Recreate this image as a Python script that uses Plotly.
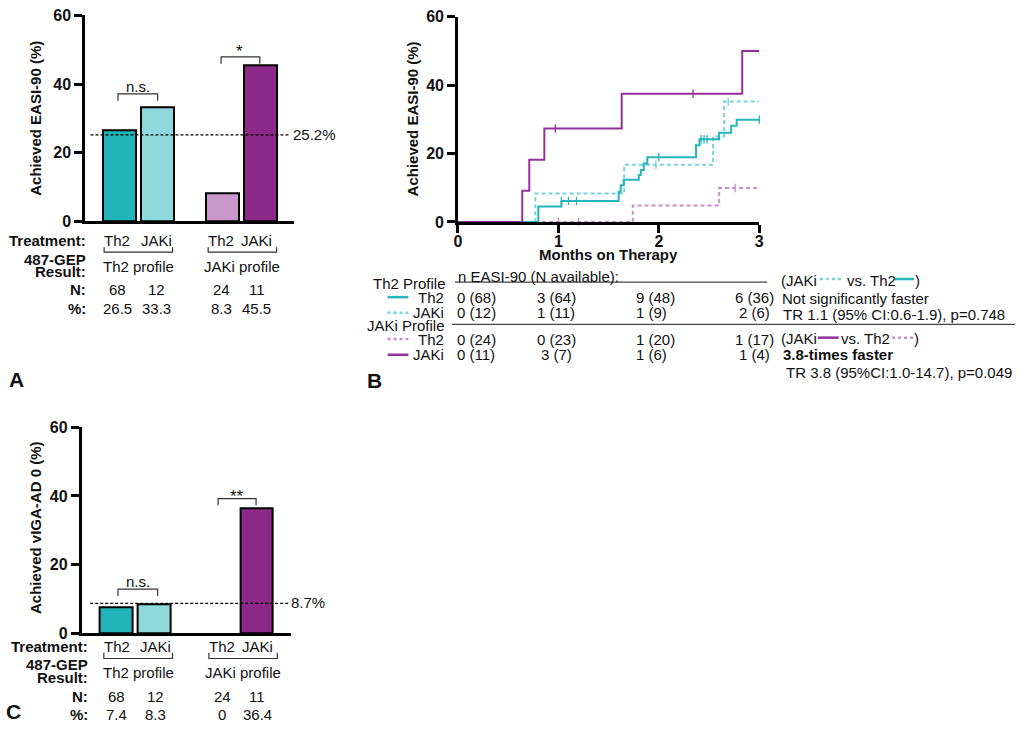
import plotly.graph_objects as go

# ---------------- data ----------------
treatments = ["Th2", "JAKi", "Th2", "JAKi"]
profiles = ["Th2 profile", "JAKi profile"]
n_patients = [68, 12, 24, 11]
easi90_pct = [26.5, 33.3, 8.3, 45.5]
viga0_pct = [7.4, 8.3, 0, 36.4]
easi90_overall = 25.2
viga0_overall = 8.7
sig_easi = ["n.s.", "*"]
sig_viga = ["n.s.", "**"]

# Kaplan-Meier style cumulative curves (months, % achieved EASI-90)
th2prof_th2_t = [0, 0.80, 1.03, 1.60, 1.62, 1.65, 1.80, 1.82, 1.85, 1.885, 2.37, 2.405, 2.60, 2.72, 2.775, 3.0]
th2prof_th2_y = [0, 4.5, 6.1, 8.8, 10.7, 12.3, 13.7, 15.2, 17.1, 18.9, 22.4, 24.2, 26.1, 28.1, 29.9, 29.9]
th2prof_jaki_t = [0, 0.77, 1.655, 2.54, 2.65, 3.0]
th2prof_jaki_y = [0, 8.3, 16.7, 25.0, 35.2, 35.2]
jakiprof_th2_t = [0, 1.74, 2.60, 3.0]
jakiprof_th2_y = [0, 4.8, 9.9, 9.9]
jakiprof_jaki_t = [0, 0.64, 0.71, 0.86, 1.63, 2.83, 3.0]
jakiprof_jaki_y = [0, 9.1, 18.2, 27.3, 37.5, 50.0, 50.0]

# censor marks
cens_th2prof_th2_t = [1.03, 1.10, 1.18, 2.0, 2.42, 2.45, 2.48, 3.0]
cens_th2prof_th2_y = [6.1, 6.1, 6.1, 18.9, 24.2, 24.2, 24.2, 29.9]
cens_th2prof_jaki_t = [1.97, 2.69]
cens_th2prof_jaki_y = [16.7, 35.2]
cens_jakiprof_th2_t = [1.0, 1.2, 2.76]
cens_jakiprof_th2_y = [0, 0, 9.9]
cens_jakiprof_jaki_t = [0.97, 2.34]
cens_jakiprof_jaki_y = [27.3, 37.5]

km_row_labels = ["Th2", "JAKi", "Th2", "JAKi"]
km_events = [[0, 3, 9, 6], [0, 1, 1, 2], [0, 0, 1, 1], [0, 3, 1, 1]]
km_available = [[68, 64, 48, 36], [12, 11, 9, 6], [24, 23, 20, 17], [11, 7, 6, 4]]
month_ticks = [0, 1, 2, 3]
pct_ticks = [0, 20, 40, 60]

# ---------------- style / layout helpers ----------------
W, H = 1024, 731
FONT = "Liberation Sans, Arial, sans-serif"
TXT = "#111111"
C_TEAL = "#22B3B8"
C_LTEAL = "#8FD9DC"
C_LPURP = "#C898CA"
C_PURP = "#8B2888"
L_TEAL = "#25B5BA"
L_LTEAL = "#74D4D7"
L_LPURP = "#C98BCC"
L_PURP = "#93309A"
bar_colors = [C_TEAL, C_LTEAL, C_LPURP, C_PURP]
bar_pos = [0, 1, 2.7, 3.7]


def fx(p):
    return p / W


def fy(p):
    return 1 - p / H


annotations = []
shapes = []


def txt(x, y, text, anchor="center", size=15, bold=False, color=TXT, angle=0):
    annotations.append(dict(
        x=fx(x), y=fy(y), xref="paper", yref="paper", text=text, showarrow=False,
        xanchor=anchor, yanchor="middle", textangle=angle,
        font=dict(family=FONT, size=size, color=color, weight="bold" if bold else "normal"),
        borderpad=0))


def seg(x0, y0, x1, y1, color="#333", width=1.2, dash="solid"):
    shapes.append(dict(type="line", xref="paper", yref="paper",
                       x0=fx(x0), y0=fy(y0), x1=fx(x1), y1=fy(y1),
                       line=dict(color=color, width=width, dash=dash)))


def bracket_down(x0, x1, ytop, ylow):
    shapes.append(dict(type="path", xref="paper", yref="paper",
                       path=f"M {fx(x0)},{fy(ylow)} L {fx(x0)},{fy(ytop)} L {fx(x1)},{fy(ytop)} L {fx(x1)},{fy(ylow)}",
                       line=dict(color="#333", width=1.2)))


def bracket_up(x0, x1, ybot, yhigh):
    shapes.append(dict(type="path", xref="paper", yref="paper",
                       path=f"M {fx(x0)},{fy(yhigh)} L {fx(x0)},{fy(ybot)} L {fx(x1)},{fy(ybot)} L {fx(x1)},{fy(yhigh)}",
                       line=dict(color="#333", width=1.2)))


fig = go.Figure()

# ---------------- Panel A bars ----------------
fig.add_trace(go.Bar(x=bar_pos, y=easi90_pct, width=0.87, xaxis="x", yaxis="y",
                     marker=dict(color=bar_colors, line=dict(color="black", width=2)),
                     showlegend=False, hoverinfo="skip"))
# ---------------- Panel C bars ----------------
fig.add_trace(go.Bar(x=bar_pos, y=viga0_pct, width=0.86, xaxis="x3", yaxis="y3",
                     marker=dict(color=bar_colors,
                                 line=dict(color="black", width=[2 if v > 0 else 0 for v in viga0_pct])),
                     showlegend=False, hoverinfo="skip"))

# reference dashed lines
fig.add_trace(go.Scatter(x=[-0.77, 4.47], y=[easi90_overall] * 2, mode="lines", xaxis="x", yaxis="y",
                         line=dict(color="black", width=1.2, dash="3px,2px"), showlegend=False,
                         cliponaxis=False, hoverinfo="skip"))
fig.add_trace(go.Scatter(x=[-0.68, 4.54], y=[viga0_overall] * 2, mode="lines", xaxis="x3", yaxis="y3",
                         line=dict(color="black", width=1.2, dash="3px,2px"), showlegend=False,
                         cliponaxis=False, hoverinfo="skip"))

# ---------------- Panel B curves ----------------
curves = [
    (jakiprof_th2_t, jakiprof_th2_y, cens_jakiprof_th2_t, cens_jakiprof_th2_y, L_LPURP, "4px,3px"),
    (th2prof_jaki_t, th2prof_jaki_y, cens_th2prof_jaki_t, cens_th2prof_jaki_y, L_LTEAL, "4px,3px"),
    (th2prof_th2_t, th2prof_th2_y, cens_th2prof_th2_t, cens_th2prof_th2_y, L_TEAL, "solid"),
    (jakiprof_jaki_t, jakiprof_jaki_y, cens_jakiprof_jaki_t, cens_jakiprof_jaki_y, L_PURP, "solid"),
]
for t, y, ct, cy, col, dash in curves:
    fig.add_trace(go.Scatter(x=t, y=y, mode="lines", line=dict(color=col, width=2, shape="hv", dash=dash),
                             xaxis="x2", yaxis="y2", showlegend=False, cliponaxis=False, hoverinfo="skip"))
    fig.add_trace(go.Scatter(x=ct, y=cy, mode="markers", xaxis="x2", yaxis="y2", showlegend=False,
                             cliponaxis=False, hoverinfo="skip",
                             marker=dict(symbol="line-ns", size=6, line=dict(color=col, width=1.3))))

axis_line = dict(showline=True, linewidth=2.5, linecolor="black", showgrid=False, zeroline=False,
                 fixedrange=True)
tickfont = dict(family=FONT, size=16, color=TXT, weight="bold")
yax = dict(range=[0, 60], tickvals=pct_ticks, ticks="outside", ticklen=8, tickwidth=2.5, tickcolor="black",
           tickfont=tickfont, **axis_line)

fig.update_layout(
    width=W, height=H, autosize=False, margin=dict(l=0, r=0, t=0, b=0),
    paper_bgcolor="white", plot_bgcolor="white", bargap=0,
    xaxis=dict(domain=[fx(81.7), fx(293)], range=[-0.914, 4.603], showticklabels=False, ticks="",
               anchor="y", **axis_line),
    yaxis=dict(domain=[fy(218.5), fy(7.5)], anchor="x", **yax),
    xaxis2=dict(domain=[fx(458), fx(762)], range=[0, 3], tickvals=month_ticks, ticks="outside", ticklen=8,
                tickwidth=2.5, tickcolor="black", tickfont=tickfont, anchor="y2", ticklabelstandoff=-5,
                **axis_line),
    yaxis2=dict(domain=[fy(219), fy(9)], anchor="x2", **yax),
    xaxis3=dict(domain=[fx(78.3), fx(290)], range=[-0.906, 4.62], showticklabels=False, ticks="",
                anchor="y3", **axis_line),
    yaxis3=dict(domain=[fy(640), fy(429.3)], anchor="x3", **yax),
)

# ---------------- Panel A annotations ----------------
txt(31.7, 113, "Achieved EASI-90 (%)", bold=True, angle=-90)
txt(291, 130, f"{easi90_overall}%", anchor="left")
bracket_down(115, 155, 88, 95)
txt(135, 80, sig_easi[0])
bracket_down(219, 258, 50, 57)
txt(237.5, 45, sig_easi[1], size=17)

colA = [114.5, 153.5, 219, 255]
txt(83.5, 238, "Treatment:", anchor="right", bold=True)
txt(83.5, 257, "487-GEP", anchor="right", bold=True)
txt(83.5, 269.5, "Result:", anchor="right", bold=True)
txt(83.5, 288, "N:", anchor="right", bold=True)
txt(83.5, 308, "%:", anchor="right", bold=True)
for i in range(4):
    txt(colA[i], 238, treatments[i])
    txt(colA[i], 288, str(n_patients[i]))
    txt(colA[i], 308, f"{easi90_pct[i]:.1f}")
bracket_up(101, 170, 250, 245)
bracket_up(206, 275, 250, 245)
txt(135.5, 265, profiles[0])
txt(240.5, 265, profiles[1])
txt(4, 380, "A", anchor="left", size=21, bold=True)

# ---------------- Panel C annotations ----------------
txt(31.7, 532, "Achieved vIGA-AD 0 (%)", bold=True, angle=-90)
txt(289, 609, f"{viga0_overall}%", anchor="left")
bracket_down(115, 155, 595, 602)
txt(135, 587, sig_viga[0])
bracket_down(216, 254.3, 502.3, 509)
txt(235, 500, sig_viga[1], size=17)

colC = [114, 152.5, 220, 255.5]
txt(86, 653.3, "Treatment:", anchor="right", bold=True)
txt(86, 672, "487-GEP", anchor="right", bold=True)
txt(86, 685, "Result:", anchor="right", bold=True)
txt(86, 705, "N:", anchor="right", bold=True)
txt(86, 723, "%:", anchor="right", bold=True)
for i in range(4):
    txt(colC[i], 653.3, treatments[i])
    txt(colC[i], 705, str(n_patients[i]))
    v = viga0_pct[i]
    txt(colC[i], 723, "0" if v == 0 else f"{v:.1f}")
bracket_up(100.7, 170, 666, 660)
bracket_up(206.7, 275.7, 666, 660)
txt(135.5, 680, profiles[0])
txt(241, 680, profiles[1])
txt(1, 720, "C", anchor="left", size=21, bold=True)

# ---------------- Panel B annotations ----------------
txt(411.7, 114, "Achieved EASI-90 (%)", bold=True, angle=-90)
txt(610, 252, "Months on Therapy", bold=True)
txt(457, 275, "n EASI-90 (N available):", anchor="left")
seg(455, 280.7, 770, 280.7, color="#444", width=1.3)
seg(452, 324, 1020, 324, color="#444", width=1.3)
txt(447, 282, "Th2 Profile", anchor="right")
txt(446, 325, "JAKi Profile", anchor="right")
row_y = [296, 312, 339, 355]
row_style = [(L_TEAL, "solid"), (L_LTEAL, "3px,3px"), (L_LPURP, "3px,3px"), (L_PURP, "solid")]
for r in range(4):
    col, dash = row_style[r]
    seg(387, row_y[r], 408, row_y[r], color=col, width=2.5, dash=dash)
    txt(445, row_y[r], km_row_labels[r], anchor="right")
    cells = [f"{km_events[r][c]} ({km_available[r][c]})" for c in range(4)]
    txt(456, row_y[r], cells[0], anchor="left")
    txt(557, row_y[r], cells[1])
    txt(637, row_y[r], cells[2], anchor="left")
    txt(757, row_y[r], cells[3])

# right-hand comparison text
txt(783, 279, "(JAKi", anchor="left")
seg(823, 277.5, 845, 277.5, color=L_LTEAL, width=2.5, dash="3px,3px")
txt(849, 279, "vs. Th2", anchor="left")
seg(899, 277.5, 918, 277.5, color=L_TEAL, width=2.5)
txt(918.5, 279, ")", anchor="left")
txt(784, 297, "Not significantly faster", anchor="left")
txt(785, 314, "TR 1.1 (95% CI:0.6-1.9), p=0.748", anchor="left")

txt(783, 338.5, "(JAKi", anchor="left")
seg(821, 337.5, 842, 337.5, color=L_PURP, width=2.5)
txt(843, 338.5, "vs. Th2", anchor="left")
seg(896, 337.5, 917, 337.5, color=L_LPURP, width=2.5, dash="3px,3px")
txt(917.5, 338.5, ")", anchor="left")
txt(785, 355, "3.8-times faster", anchor="left", bold=True)
txt(788, 373, "TR 3.8 (95%CI:1.0-14.7), p=0.049", anchor="left")
txt(365, 381, "B", anchor="left", size=21, bold=True)

fig.update_layout(annotations=annotations, shapes=shapes)
fig.write_html("out.html")
